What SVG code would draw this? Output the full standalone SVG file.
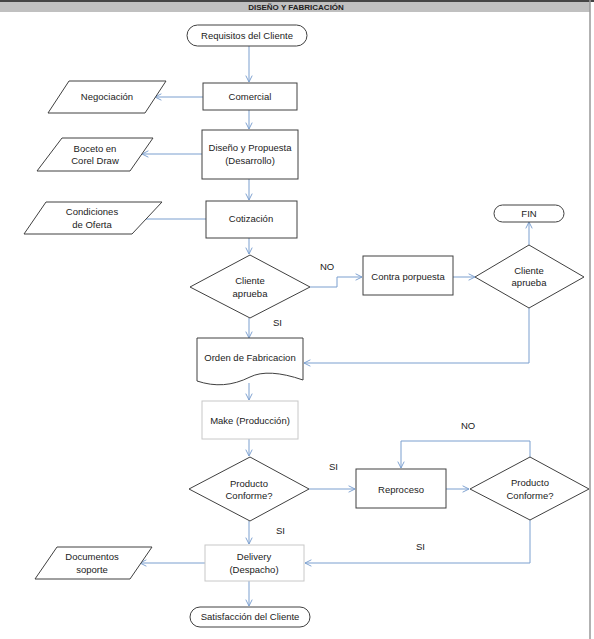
<svg xmlns="http://www.w3.org/2000/svg" width="594" height="639" viewBox="0 0 594 639">
<defs>
<style>
.sh{fill:#fff;stroke:#404040;stroke-width:1}
.lt{fill:#fff;stroke:#c8c8c8;stroke-width:1}
.tx{font-family:"Liberation Sans",Arial,sans-serif;font-size:9.5px;fill:#222;text-anchor:middle}
.lb{font-family:"Liberation Sans",Arial,sans-serif;font-size:9.5px;fill:#222}
.cn{fill:none;stroke:#7b9fcf;stroke-width:1}
</style>
<marker id="ah" viewBox="0 0 10 10" refX="9" refY="5" markerWidth="8" markerHeight="8" markerUnits="userSpaceOnUse" orient="auto">
<path d="M1,1 L9,5 L1,9" fill="none" stroke="#7b9fcf" stroke-width="1.2"/>
</marker>
</defs>
<rect x="0" y="0" width="594" height="639" fill="#fff"/>
<rect x="0" y="1.5" width="590" height="10.5" fill="#c0c0c0"/>
<line x1="0" y1="1" x2="594" y2="1" stroke="#444" stroke-width="2"/>
<line x1="590" y1="0" x2="590" y2="639" stroke="#999" stroke-width="1.5"/>
<text x="296" y="10" font-family="'Liberation Sans',Arial,sans-serif" font-size="8px" font-weight="bold" text-anchor="middle" fill="#222">DISEÑO Y FABRICACIÓN</text>

<g id="connectors">
<path class="cn" d="M249,46 V82" marker-end="url(#ah)"/>
<path class="cn" d="M249,110 V129" marker-end="url(#ah)"/>
<path class="cn" d="M249,179 V200" marker-end="url(#ah)"/>
<path class="cn" d="M249,238 V254" marker-end="url(#ah)"/>
<path class="cn" d="M203,97 H155" marker-end="url(#ah)"/>
<path class="cn" d="M202,154 H142" marker-end="url(#ah)"/>
<path class="cn" d="M206,219 H124" marker-end="url(#ah)"/>
<path class="cn" d="M310,287 H337 V277 H362" marker-end="url(#ah)"/>
<path class="cn" d="M453,277 H475" marker-end="url(#ah)"/>
<path class="cn" d="M529,245 V222" marker-end="url(#ah)"/>
<path class="cn" d="M529,308 V363 H304" marker-end="url(#ah)"/>
<path class="cn" d="M249,318 V338" marker-end="url(#ah)"/>
<path class="cn" d="M249,383 V400" marker-end="url(#ah)"/>
<path class="cn" d="M249,439 V456" marker-end="url(#ah)"/>
<path class="cn" d="M309,489 H355" marker-end="url(#ah)"/>
<path class="cn" d="M446,489 H469" marker-end="url(#ah)"/>
<path class="cn" d="M530,457 V441 H401 V468" marker-end="url(#ah)"/>
<path class="cn" d="M530,520 V563 H305" marker-end="url(#ah)"/>
<path class="cn" d="M249,521 V544" marker-end="url(#ah)"/>
<path class="cn" d="M205,563 H140" marker-end="url(#ah)"/>
<path class="cn" d="M249,581 V606" marker-end="url(#ah)"/>
</g>

<g id="requisitos">
<rect class="sh" x="187" y="25" width="120" height="21" rx="10.5"/>
<text class="tx" x="247" y="39">Requisitos del Cliente</text>
</g>
<g id="comercial">
<rect class="sh" x="203" y="83" width="94" height="27"/>
<text class="tx" x="250" y="100">Comercial</text>
</g>
<g id="negociacion">
<polygon class="sh" points="69,81 166,81 145,113 48,113"/>
<text class="tx" x="107" y="100">Negociación</text>
</g>
<g id="diseno">
<rect class="sh" x="202" y="130" width="96" height="49"/>
<text class="tx" x="250" y="151">Diseño y Propuesta</text>
<text class="tx" x="250" y="164">(Desarrollo)</text>
</g>
<g id="boceto">
<polygon class="sh" points="62,138 153,138 130,171 37,171"/>
<text class="tx" x="95" y="152">Boceto en</text>
<text class="tx" x="95" y="164">Corel Draw</text>
</g>
<g id="cotizacion">
<rect class="sh" x="206" y="201" width="91" height="37"/>
<text class="tx" x="251" y="222">Cotización</text>
</g>
<g id="condiciones">
<polygon class="sh" points="46,202 162,202 132,234 24,234"/>
<text class="tx" x="92" y="215">Condiciones</text>
<text class="tx" x="92" y="228">de Oferta</text>
</g>
<g id="cliente1">
<polygon class="sh" points="250,255 310,287 250,318 190,287"/>
<text class="tx" x="250" y="284">Cliente</text>
<text class="tx" x="250" y="297">aprueba</text>
</g>
<g id="contra">
<rect class="sh" x="363" y="256" width="90" height="39"/>
<text class="tx" x="408" y="280">Contra porpuesta</text>
</g>
<g id="cliente2">
<polygon class="sh" points="529,245 584,277 529,308 475,277"/>
<text class="tx" x="529" y="274">Cliente</text>
<text class="tx" x="529" y="286">aprueba</text>
</g>
<g id="fin">
<rect class="sh" x="494" y="205" width="70" height="17" rx="8.5"/>
<text class="tx" x="529" y="217">FIN</text>
</g>
<g id="orden">
<path class="sh" d="M197,338 H303 V380 C280,372 262,371 250,377 C232,386 215,387 197,381 Z"/>
<text class="tx" x="250" y="361">Orden de Fabricacion</text>
</g>
<g id="make">
<rect class="lt" x="202" y="401" width="96" height="38"/>
<text class="tx" x="250" y="424">Make (Producción)</text>
</g>
<g id="producto1">
<polygon class="sh" points="250,457 309,489 250,521 189,489"/>
<text class="tx" x="249" y="487">Producto</text>
<text class="tx" x="249" y="499">Conforme?</text>
</g>
<g id="reproceso">
<rect class="sh" x="356" y="469" width="90" height="39"/>
<text class="tx" x="401" y="493">Reproceso</text>
</g>
<g id="producto2">
<polygon class="sh" points="530,457 589,489 530,520 470,489"/>
<text class="tx" x="530" y="486">Producto</text>
<text class="tx" x="530" y="499">Conforme?</text>
</g>
<g id="delivery">
<rect class="lt" x="205" y="545" width="99" height="36"/>
<text class="tx" x="254" y="560">Delivery</text>
<text class="tx" x="254" y="573">(Despacho)</text>
</g>
<g id="documentos">
<polygon class="sh" points="57,547 152,547 130,579 35,579"/>
<text class="tx" x="92" y="560">Documentos</text>
<text class="tx" x="92" y="573">soporte</text>
</g>
<g id="satisfaccion">
<rect class="sh" x="190" y="607" width="120" height="20" rx="10"/>
<text class="tx" x="250" y="620">Satisfacción del Cliente</text>
</g>

<g id="labels">
<text class="lb" x="320" y="270">NO</text>
<text class="lb" x="273" y="326">SI</text>
<text class="lb" x="329" y="470">SI</text>
<text class="lb" x="461" y="429">NO</text>
<text class="lb" x="276" y="534">SI</text>
<text class="lb" x="416" y="550">SI</text>
</g>
</svg>
